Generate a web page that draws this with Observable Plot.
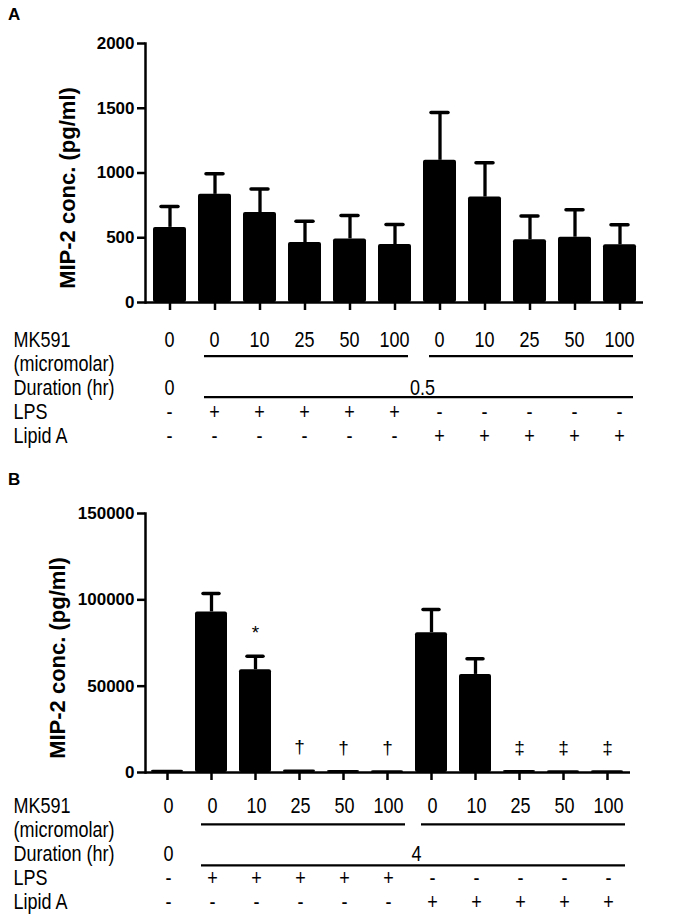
<!DOCTYPE html>
<html><head><meta charset="utf-8">
<script src="https://cdn.jsdelivr.net/npm/d3@7"></script>
<script src="https://cdn.jsdelivr.net/npm/@observablehq/plot@0.6"></script>
<style>
body{margin:0;background:#fff;font-family:"Liberation Sans",Arial,sans-serif;}
#page{position:relative;width:688px;height:918px;overflow:hidden;background:#fff;}
.abs{position:absolute;left:0;}
.stretch{transform:scaleY(1.2);transform-origin:0 0;}
.panel{position:absolute;left:8px;font:bold 17px/1 "Liberation Sans",Arial,sans-serif;color:#000;}
</style></head><body><div id="page"></div>
<script>
// ---- categories ----
const conditions = ["Control","LPS+MK0","LPS+MK10","LPS+MK25","LPS+MK50","LPS+MK100",
  "LipidA+MK0","LipidA+MK10","LipidA+MK25","LipidA+MK50","LipidA+MK100"];
const mk591 = ["0","0","10","25","50","100","0","10","25","50","100"];
const lps = ["-","+","+","+","+","+","-","-","-","-","-"];
const lipidA = ["-","-","-","-","-","-","+","+","+","+","+"];
const rowNames = ["MK591","(micromolar)","Duration (hr)","LPS","Lipid A"];
const yTitle = "MIP-2 conc. (pg/ml)";

// ---- panel A (0.5 hr) ----
const meanA = [580, 835, 695, 463, 491, 447, 1098, 814, 484, 504, 445];
const semA  = [162, 160, 181, 165, 181, 155, 370, 266, 183, 212, 155];
const yTicksA = [0, 500, 1000, 1500, 2000];
const durationA = "0.5";

// ---- panel B (4 hr) ----
const meanB = [1300, 93000, 59500, 1500, 1100, 1000, 81000, 56800, 1100, 1000, 1000];
const semB  = [null, 10700, 7800, null, null, null, 13400, 9100, null, null, null];
const symbolsB = ["", "", "*", "\u2020", "\u2020", "\u2020", "", "", "\u2021", "\u2021", "\u2021"];
const yTicksB = [0, 50000, 100000, 150000];
const durationB = "4";

const FONT = "'Liberation Sans', Arial, sans-serif";
const page = document.getElementById("page");

function place(el, top, cls) {
  const d = document.createElement("div");
  d.className = "abs" + (cls ? " " + cls : ""); d.style.top = top + "px";
  d.appendChild(el); page.appendChild(d);
}
function label(txt, top) {
  const d = document.createElement("div");
  d.className = "panel"; d.style.top = top + "px"; d.textContent = txt;
  page.appendChild(d);
}

function barChart({mean, sem, symbols, yTicks, marginRight, titleDx}) {
  const data = conditions.map((c, i) => ({cond: c, mean: mean[i], sem: sem[i], sym: symbols ? symbols[i] : ""}));
  const withErr = data.filter(d => d.sem != null);
  return Plot.plot({
    width: 688, height: 320,
    marginLeft: 145, marginRight, marginTop: 43, marginBottom: 18,
    style: {background: "transparent", fontFamily: FONT, fontSize: "17px", fontWeight: "bold", color: "#000", overflow: "visible"},
    x: {domain: conditions, paddingInner: 0.27, paddingOuter: 0.12},
    y: {domain: [yTicks[0], yTicks[yTicks.length - 1]]},
    marks: [
      Plot.barY(data, {x: "cond", y: "mean", fill: "#000", rx: 2}),
      Plot.ruleX(withErr, {x: "cond", y1: "mean", y2: d => d.mean + d.sem, stroke: "#000", strokeWidth: 3.3}),
      Plot.tickY(withErr, {x: "cond", y: d => d.mean + d.sem, stroke: "#000", strokeWidth: 3.5, insetLeft: 8, insetRight: 8, strokeLinecap: "round"}),
      Plot.text(data.filter(d => d.sym), {x: "cond", y: d => d.mean + (d.sem ?? 0), text: "sym", dy: -23, fontSize: 19, fontWeight: "normal", fill: "#000"}),
      Plot.ruleY([0], {stroke: "#000", strokeWidth: 2.5}),
      Plot.frame({anchor: "left", stroke: "#000", strokeWidth: 2.5}),
      Plot.axisY({ticks: yTicks, tickSize: 8, tickPadding: 3, strokeWidth: 2.5, tickFormat: "d", label: null, fontSize: 17, fontWeight: "bold"}),
      Plot.axisX({tickSize: 8, strokeWidth: 2.5, tickFormat: () => "", label: null}),
      Plot.text([yTitle], {text: d => d, frameAnchor: "left", textAnchor: "middle", rotate: -90, dx: titleDx, dy: 15, fontSize: 22, fontWeight: "bold", fill: "#000"})
    ]
  });
}

function table({duration, marginRight, range, ulDy, durDy, inL, inR}) {
  const cells = conditions.flatMap((c, i) => [
    {cond: c, row: "MK591", text: mk591[i]},
    {cond: c, row: "LPS", text: lps[i]},
    {cond: c, row: "Lipid A", text: lipidA[i]}
  ]);
  cells.push({cond: conditions[0], row: "Duration (hr)", text: "0"});
  const lines = [
    {row: "MK591", from: conditions[1], to: conditions[5]},
    {row: "MK591", from: conditions[6], to: conditions[10]},
  ];
  return Plot.plot({
    width: 688, height: 112,
    marginLeft: 145, marginRight, marginTop: 0, marginBottom: 0,
    style: {background: "transparent", fontFamily: FONT, fontSize: "18px", color: "#000", overflow: "visible"},
    x: {domain: conditions, paddingInner: 0.27, paddingOuter: 0.12, axis: null},
    y: {type: "point", domain: rowNames, range, padding: 0, axis: null},
    marks: [
      Plot.text(rowNames, {y: d => d, text: d => d, frameAnchor: "left", dx: -132, textAnchor: "start", fontSize: 18, fill: "#000"}),
      Plot.text(cells, {x: "cond", y: "row", text: "text", fontSize: 18, fill: "#000"}),
      Plot.ruleY(lines, {y: "row", x1: "from", x2: "to", dy: ulDy, stroke: "#000", strokeWidth: 1.8, insetLeft: inL, insetRight: inR}),
      Plot.ruleY([{row: "Duration (hr)", from: conditions[1], to: conditions[10]}], {y: "row", x1: "from", x2: "to", dy: durDy, stroke: "#000", strokeWidth: 1.8, insetLeft: inL, insetRight: inR}),
      Plot.text([{cond: conditions[5], row: "Duration (hr)", text: duration}], {x: "cond", y: "row", text: "text", dx: 28, fontSize: 18, fill: "#000"})
    ]
  });
}

place(barChart({mean: meanA, sem: semA, yTicks: yTicksA, marginRight: 45, titleDx: -78}), 0);
place(table({duration: durationA, marginRight: 45, range: [17.5, 99], ulDy: 13.3, durDy: 7.5, inL: -10, inR: -14}), 318, "stretch");
place(barChart({mean: meanB, sem: semB, symbols: symbolsB, yTicks: yTicksB, marginRight: 58, titleDx: -88}), 470);
place(table({duration: durationB, marginRight: 58, range: [17.5, 100], ulDy: 15, durDy: 9.2, inL: -11, inR: -17}), 783, "stretch");
label("A", 6);
label("B", 471);
</script>
</body></html>
